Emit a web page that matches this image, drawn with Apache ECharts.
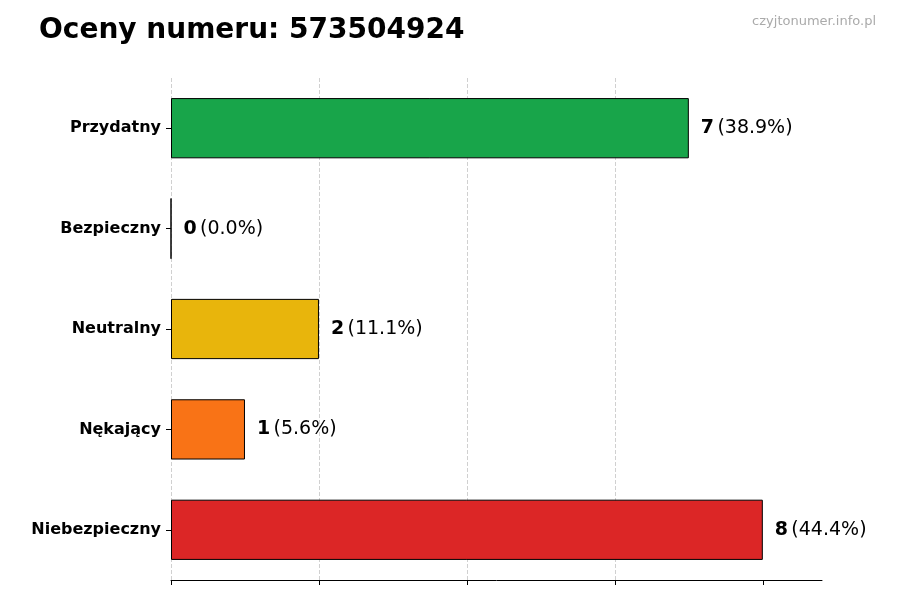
<!DOCTYPE html>
<html><head><meta charset="utf-8">
<script src="https://cdn.jsdelivr.net/npm/echarts@6/dist/echarts.min.js"></script>
<style>html,body{margin:0;background:#fff}#c{width:900px;height:600px}</style>
</head><body><div id="c"></div>
<script>
const categories = ['Przydatny','Bezpieczny','Neutralny','Nękający','Niebezpieczny'];
const values = [7,0,2,1,8];
const percents = ['38.9%','0.0%','11.1%','5.6%','44.4%'];
const colors = ['#18a54a','#0a8f3c','#e8b50c','#f97316','#dc2626'];
const xTicks = [0,2,4,6,8];
const chart = echarts.init(document.getElementById('c'));
chart.setOption({
  animation:false,
  title:[{text:'Oceny numeru: 573504924',left:34,top:12,textStyle:{fontFamily:'DejaVu Sans',fontWeight:'bold',fontSize:28,color:'#000'}},
         {text:'czyjtonumer.info.pl',right:19,top:10,textStyle:{fontFamily:'DejaVu Sans',fontWeight:'normal',fontSize:13,color:'#aaa'}}],
  grid:{left:171,right:78,top:78,bottom:20},
  xAxis:{type:'value',min:0,max:8.8,interval:2,
    axisLine:{show:true,lineStyle:{color:'#000'}},
    axisTick:{show:true,customValues:xTicks,length:5,lineStyle:{color:'#000'}},
    axisLabel:{show:false},
    splitLine:{show:true,showMaxLine:false,lineStyle:{type:'dashed',color:'#d0d0d0'}}},
  yAxis:{type:'category',inverse:true,data:categories,
    axisLine:{show:false},
    axisTick:{show:true,alignWithLabel:true,length:5,lineStyle:{color:'#000'}},
    axisLabel:{fontFamily:'DejaVu Sans',fontWeight:'bold',fontSize:16,color:'#000',margin:10}},
  series:[{type:'bar',barWidth:'60%',
    data:values.map((v,i)=>({value:v,itemStyle:{color:colors[i],borderColor:'#000',borderWidth:1}})),
    label:{show:true,position:'right',distance:12,
      formatter:p=>'{b|'+values[p.dataIndex]+'} {n|('+percents[p.dataIndex]+')}',
      rich:{b:{fontFamily:'DejaVu Sans',fontWeight:'bold',fontSize:19,color:'#000'},
            n:{fontFamily:'DejaVu Sans',fontSize:19,color:'#000'}}}}]
});
</script></body></html>
